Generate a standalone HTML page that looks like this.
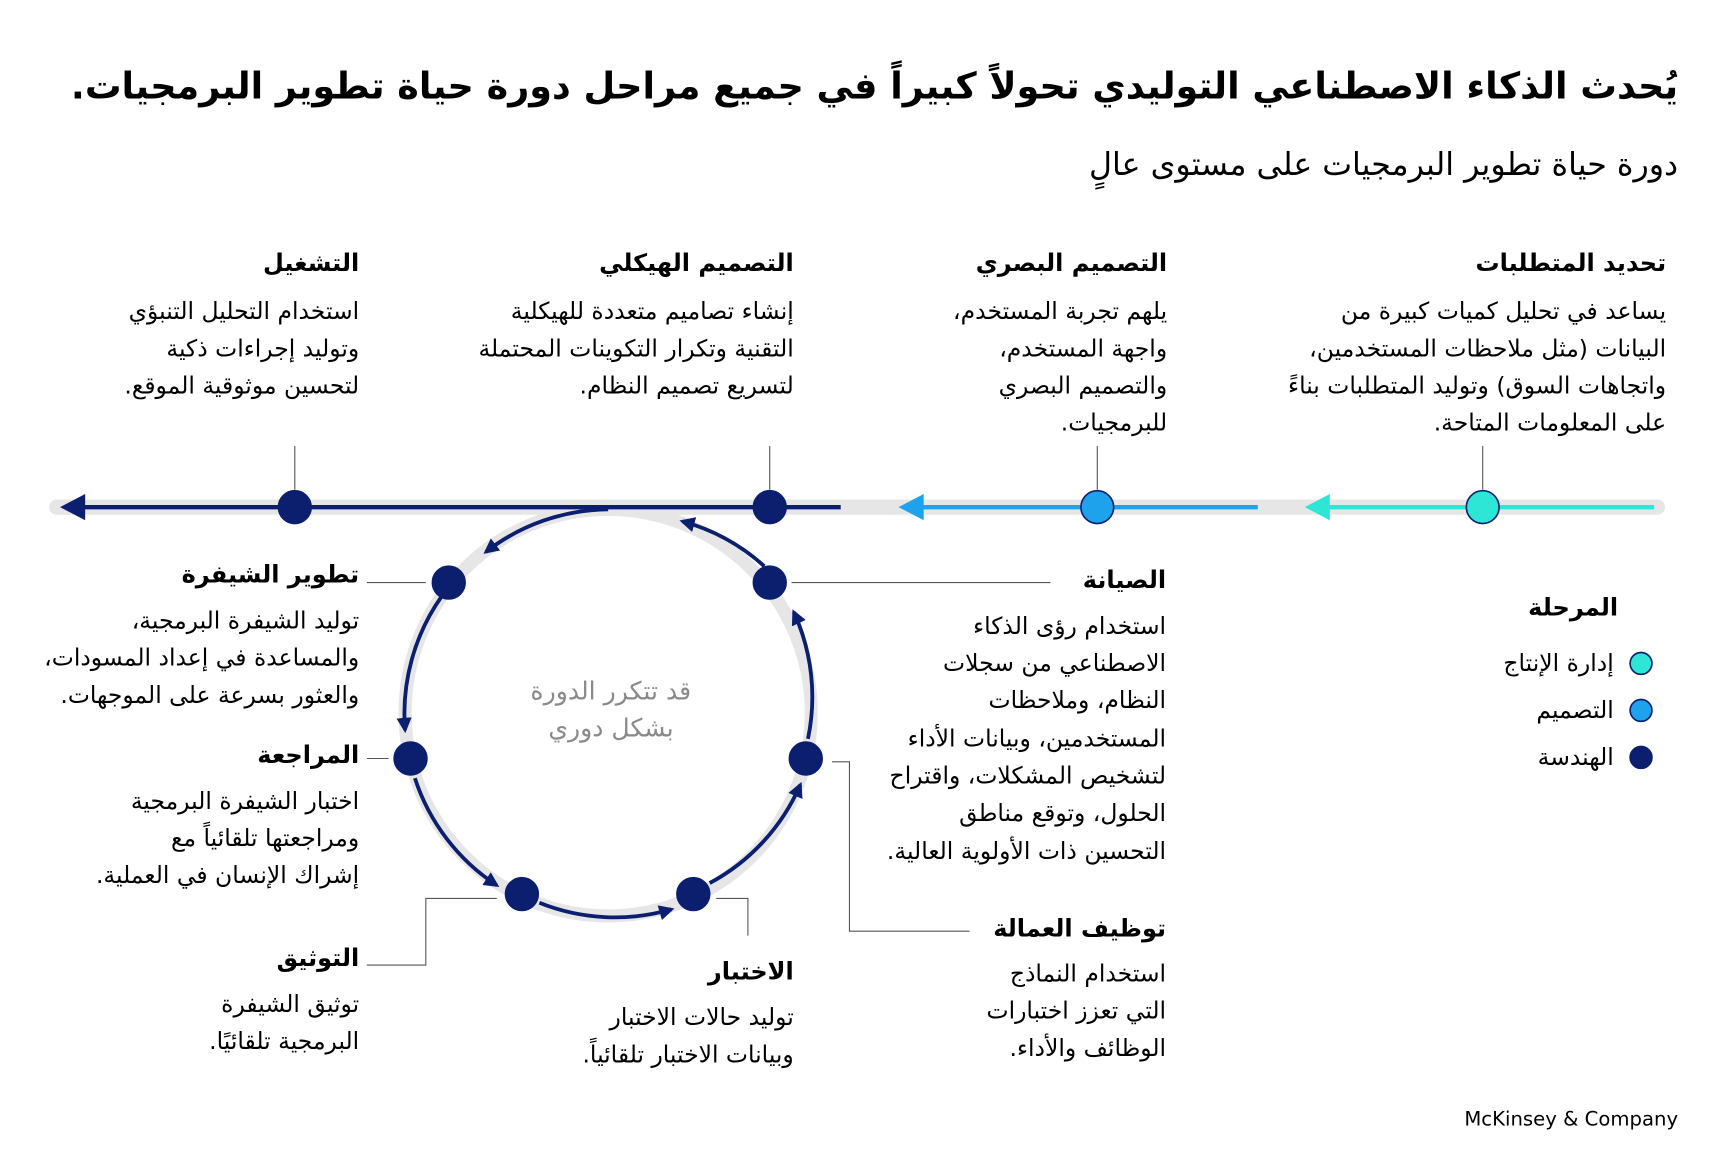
<!DOCTYPE html>
<html><head><meta charset="utf-8"><style>
html,body{margin:0;padding:0;background:#fff;}
svg{display:block;}
text{font-family:"DejaVu Sans","Liberation Sans",sans-serif;}
</style></head><body>
<svg width="1712" height="1164" viewBox="0 0 1568 1065" preserveAspectRatio="none" xmlns="http://www.w3.org/2000/svg">
<defs>
<marker id="ah" viewBox="0 0 10 10" refX="8" refY="5" markerWidth="14" markerHeight="14" orient="auto-start-reverse" markerUnits="userSpaceOnUse"><path d="M0,0 L10,5 L0,10 z" fill="#0b1f6e"/></marker>
</defs>
<g direction="rtl" fill="#000">
<text x="1537" y="90" font-size="33.5" font-weight="bold" text-anchor="start">يُحدث الذكاء الاصطناعي التوليدي تحولاً كبيراً في جميع مراحل دورة حياة تطوير البرمجيات.</text>
<text x="1537" y="160" font-size="29" text-anchor="start">دورة حياة تطوير البرمجيات على مستوى عالٍ</text>

<g font-size="22" font-weight="bold">
<text x="1526" y="248" text-anchor="start">تحديد المتطلبات</text>
<text x="1069" y="248" text-anchor="start">التصميم البصري</text>
<text x="727" y="248" text-anchor="start">التصميم الهيكلي</text>
<text x="329" y="248" text-anchor="start">التشغيل</text>
<text x="1068" y="538" text-anchor="start">الصيانة</text>
<text x="329" y="533" text-anchor="start">تطوير الشيفرة</text>
<text x="329" y="698" text-anchor="start">المراجعة</text>
<text x="329" y="884" text-anchor="start">التوثيق</text>
<text x="727" y="896" text-anchor="start">الاختبار</text>
<text x="1068" y="857" text-anchor="start">توظيف العمالة</text>
<text x="1482" y="563" text-anchor="start">المرحلة</text>
</g>

<g font-size="21.5">
<text x="1526" y="292" text-anchor="start">يساعد في تحليل كميات كبيرة من</text>
<text x="1526" y="326" text-anchor="start">البيانات (مثل ملاحظات المستخدمين،</text>
<text x="1526" y="360" text-anchor="start">واتجاهات السوق) وتوليد المتطلبات بناءً</text>
<text x="1526" y="394" text-anchor="start">على المعلومات المتاحة.</text>

<text x="1069" y="292" text-anchor="start">يلهم تجربة المستخدم،</text>
<text x="1069" y="326" text-anchor="start">واجهة المستخدم،</text>
<text x="1069" y="360" text-anchor="start">والتصميم البصري</text>
<text x="1069" y="394" text-anchor="start">للبرمجيات.</text>

<text x="727" y="292" text-anchor="start">إنشاء تصاميم متعددة للهيكلية</text>
<text x="727" y="326" text-anchor="start">التقنية وتكرار التكوينات المحتملة</text>
<text x="727" y="360" text-anchor="start">لتسريع تصميم النظام.</text>

<text x="329" y="292" text-anchor="start">استخدام التحليل التنبؤي</text>
<text x="329" y="326" text-anchor="start">وتوليد إجراءات ذكية</text>
<text x="329" y="360" text-anchor="start">لتحسين موثوقية الموقع.</text>

<text x="1068" y="580" text-anchor="start">استخدام رؤى الذكاء</text>
<text x="1068" y="614" text-anchor="start">الاصطناعي من سجلات</text>
<text x="1068" y="648" text-anchor="start">النظام، وملاحظات</text>
<text x="1068" y="683" text-anchor="start">المستخدمين، وبيانات الأداء</text>
<text x="1068" y="717" text-anchor="start">لتشخيص المشكلات، واقتراح</text>
<text x="1068" y="751" text-anchor="start">الحلول، وتوقع مناطق</text>
<text x="1068" y="786" text-anchor="start">التحسين ذات الأولوية العالية.</text>

<text x="329" y="575" text-anchor="start">توليد الشيفرة البرمجية،</text>
<text x="329" y="609" text-anchor="start">والمساعدة في إعداد المسودات،</text>
<text x="329" y="643" text-anchor="start">والعثور بسرعة على الموجهات.</text>

<text x="329" y="740" text-anchor="start">اختبار الشيفرة البرمجية</text>
<text x="329" y="774" text-anchor="start">ومراجعتها تلقائياً مع</text>
<text x="329" y="808" text-anchor="start">إشراك الإنسان في العملية.</text>

<text x="329" y="926" text-anchor="start">توثيق الشيفرة</text>
<text x="329" y="960" text-anchor="start">البرمجية تلقائيًا.</text>

<text x="727" y="938" text-anchor="start">توليد حالات الاختبار</text>
<text x="727" y="972" text-anchor="start">وبيانات الاختبار تلقائياً.</text>

<text x="1068" y="898" text-anchor="start">استخدام النماذج</text>
<text x="1068" y="932" text-anchor="start">التي تعزز اختبارات</text>
<text x="1068" y="966" text-anchor="start">الوظائف والأداء.</text>

<text x="1478" y="614" text-anchor="start">إدارة الإنتاج</text>
<text x="1478" y="657" text-anchor="start">التصميم</text>
<text x="1478" y="700" text-anchor="start">الهندسة</text>
</g>

<g font-size="23" fill="#8a8a8a">
<text x="633" y="640" text-anchor="start">قد تتكرر الدورة</text>
<text x="617" y="674" text-anchor="start">بشكل دوري</text>
</g>
</g>

<text x="1537" y="1030" font-size="18" text-anchor="end" font-family="Liberation Sans, sans-serif">McKinsey &amp; Company</text>

<g stroke="#555" stroke-width="1">
<line x1="1358" y1="408" x2="1358" y2="448"/>
<line x1="1005" y1="408" x2="1005" y2="448"/>
<line x1="705" y1="408" x2="705" y2="448"/>
<line x1="270" y1="408" x2="270" y2="448"/>
<polyline fill="none" points="725,533 962,533"/>
<polyline fill="none" points="336,533 390,533"/>
<polyline fill="none" points="336,694 356,694"/>
<polyline fill="none" points="336,883 390,883 390,822 455,822"/>
<polyline fill="none" points="656,822 685,822 685,856"/>
<polyline fill="none" points="762,697 778,697 778,852 888,852"/>
</g>

<line x1="52" y1="464" x2="1518" y2="464" stroke="#e6e6e6" stroke-width="14" stroke-linecap="round"/>
<circle cx="557" cy="652" r="186" fill="none" stroke="#e6e6e6" stroke-width="12"/>

<line x1="1210" y1="464" x2="1515" y2="464" stroke="#2ee6d6" stroke-width="4"/>
<path d="M1195,464 L1218,452 L1218,476 z" fill="#2ee6d6"/>
<line x1="838" y1="464" x2="1152" y2="464" stroke="#1fa2ec" stroke-width="4"/>
<path d="M823,464 L846,452 L846,476 z" fill="#1fa2ec"/>
<line x1="70" y1="464" x2="770" y2="464" stroke="#0b1f6e" stroke-width="4"/>
<path d="M55,464 L78,452 L78,476 z" fill="#0b1f6e"/>

<g fill="none" stroke="#0b1f6e" stroke-width="3.5" marker-end="url(#ah)">
<path d="M557,466 A186,186 0 0 0 445,505"/>
<path d="M405,545 A186,186 0 0 0 371,668"/>
<path d="M380,712 A186,186 0 0 0 455,810"/>
<path d="M494,826 A186,186 0 0 0 615,832"/>
<path d="M650,808 A186,186 0 0 0 733,718"/>
<path d="M740,676 A186,186 0 0 0 727,560"/>
<path d="M700,518 A186,186 0 0 0 625,477"/>
</g>

<g stroke="#0b1f6e" stroke-width="1.5">
<circle cx="1358" cy="464" r="15" fill="#2ee6d6"/>
<circle cx="1005" cy="464" r="15" fill="#1fa2ec"/>
<circle cx="705" cy="464" r="15" fill="#0b1f6e"/>
<circle cx="270" cy="464" r="15" fill="#0b1f6e"/>
<circle cx="705" cy="533" r="15" fill="#0b1f6e"/>
<circle cx="411" cy="533" r="15" fill="#0b1f6e"/>
<circle cx="376" cy="694" r="15" fill="#0b1f6e"/>
<circle cx="738" cy="694" r="15" fill="#0b1f6e"/>
<circle cx="478" cy="818" r="15" fill="#0b1f6e"/>
<circle cx="635" cy="818" r="15" fill="#0b1f6e"/>
<circle cx="1503" cy="607" r="10" fill="#2ee6d6"/>
<circle cx="1503" cy="650" r="10" fill="#1fa2ec"/>
<circle cx="1503" cy="693" r="10" fill="#0b1f6e"/>
</g>
</svg>
</body></html>
